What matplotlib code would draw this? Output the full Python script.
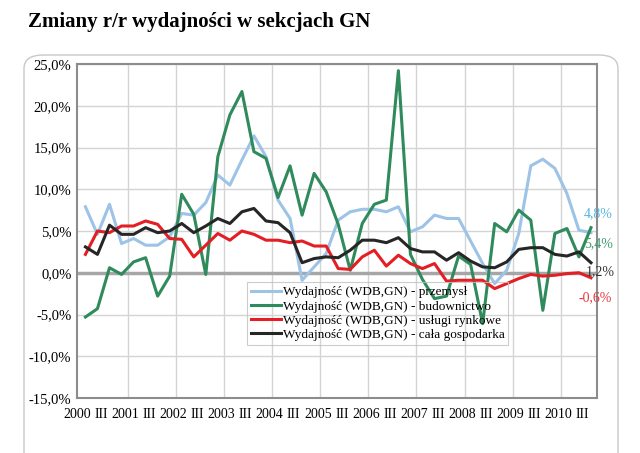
import matplotlib
matplotlib.use("Agg")
import matplotlib.pyplot as plt
from matplotlib.patches import FancyBboxPatch

# quarterly data 2000 Q1 .. 2010 Q3
years = list(range(2000, 2011))
n_quarters = 43

przemysl = [7.9, 4.6, 8.2, 3.5, 4.1, 3.3, 3.3, 4.3, 7.1, 6.9, 8.4, 11.7, 10.5, 13.5, 16.4,
            13.9, 8.7, 6.5, -0.9, 0.7, 2.3, 6.3, 7.3, 7.6, 7.6, 7.3, 7.9, 4.9, 5.5, 6.9,
            6.5, 6.5, 3.8, 1.1, -1.3, 0.3, 4.7, 12.8, 13.6, 12.5, 9.5, 5.1, 4.8]
budownictwo = [-5.3, -4.3, 0.6, -0.2, 1.3, 1.8, -2.8, -0.4, 9.4, 7.0, -0.2, 13.9, 18.9, 21.7,
               14.5, 13.7, 9.0, 12.8, 6.9, 11.9, 9.7, 5.8, 0.3, 5.9, 8.2, 8.7, 24.2, 2.2,
               -0.8, -3.1, -2.8, 2.0, 1.0, -6.1, 5.9, 4.9, 7.5, 6.3, -4.5, 4.7, 5.3, 1.9, 5.4]
uslugi = [2.2, 5.0, 4.8, 5.6, 5.6, 6.2, 5.8, 4.1, 4.0, 1.9, 3.3, 4.7, 3.9, 5.0, 4.6, 3.9,
          3.9, 3.6, 3.8, 3.2, 3.2, 0.5, 0.4, 1.9, 2.7, 0.8, 2.1, 1.1, 0.5, 1.1, -1.0, -0.9,
          -0.9, -0.9, -1.9, -1.3, -0.7, -0.2, -0.4, -0.3, -0.1, 0.0, -0.6]
gospodarka = [3.1, 2.2, 5.7, 4.6, 4.6, 5.4, 4.8, 5.0, 5.9, 4.8, 5.6, 6.5, 5.9, 7.3, 7.7, 6.2,
              6.0, 4.8, 1.2, 1.7, 1.9, 1.8, 2.7, 3.9, 3.9, 3.6, 4.2, 2.9, 2.5, 2.5, 1.5, 2.4,
              1.4, 0.7, 0.6, 1.3, 2.8, 3.0, 3.0, 2.2, 2.0, 2.5, 1.2]

series_labels = ["Wydajność (WDB,GN) - przemysł",
                 "Wydajność (WDB,GN) - budownictwo",
                 "Wydajność (WDB,GN) - usługi rynkowe",
                 "Wydajność (WDB,GN) - cała gospodarka"]
end_labels = ["4,8%", "5,4%", "-0,6%", "1,2%"]

colors = ["#9DC3E6", "#2F8A5C", "#E31E24", "#262626"]
label_colors = ["#55B4E0", "#3F9B6C", "#E8383D", "#333333"]

serif = "Liberation Serif"

fig = plt.figure(figsize=(6.4, 4.53), dpi=100)

# rounded frame around the chart
frame = FancyBboxPatch((24 / 640, -0.05), (618 - 24) / 640, 1.05 - 55 / 453,
                       boxstyle="round,pad=0,rounding_size=0.03",
                       transform=fig.transFigure, fc="white", ec="#C8C8C8", lw=1.0,
                       zorder=-1)
fig.patches.append(frame)

fig.text(28 / 640, 1 - 22 / 453, "Zmiany r/r wydajności w sekcjach GN",
         fontsize=15, fontweight="bold", family=serif, va="center", ha="left")

ax = fig.add_axes([77 / 640, 55 / 453, 520 / 640, 334 / 453])
ax.set_zorder(2)
ax.patch.set_alpha(0)
x = list(range(n_quarters))
for vals, c, lab in zip([przemysl, budownictwo, uslugi, gospodarka], colors, series_labels):
    ax.plot(x, vals, color=c, lw=2.2, label=lab, zorder=3)

ax.set_xlim(-0.5, n_quarters - 0.5)
ax.set_ylim(-15, 25)
ax.set_yticks(range(-15, 26, 5))
ax.set_yticklabels([f"{v:.1f}%".replace(".", ",") for v in range(-15, 26, 5)],
                   family=serif, fontsize=10.5)

# year / III labels every second quarter, gridlines between years
tick_pos = [i - 0.7 for i in range(0, n_quarters, 2)]
tick_lab = [str(years[i // 4]) if i % 4 == 0 else "III" for i in range(0, n_quarters, 2)]
ax.set_xticks(tick_pos)
ax.set_xticklabels(tick_lab, family=serif, fontsize=10)
ax.set_xticks([i - 0.5 for i in range(4, n_quarters, 4)], minor=True)
ax.tick_params(axis="x", which="both", length=0, pad=7)
ax.tick_params(axis="y", length=0, pad=4)

ax.grid(True, which="minor", axis="x", color="#D4D4D4", lw=1)
ax.grid(True, which="major", axis="y", color="#D4D4D4", lw=1)
ax.axhline(0, color="#A6A6A6", lw=2.5, zorder=2)
for sp in ax.spines.values():
    sp.set_color("#8C8C8C")
    sp.set_linewidth(1.5)

leg = ax.legend(loc="lower left", bbox_to_anchor=(0.327, 0.159), borderaxespad=0,
                prop={"family": serif, "size": 9.5}, frameon=True, fancybox=False,
                handlelength=2.3, handletextpad=0.1, labelspacing=0.15, borderpad=0.3)
leg.get_frame().set_facecolor("none")
leg.get_frame().set_edgecolor("#C0C0C0")
leg.get_frame().set_linewidth(0.8)

# end-of-series value labels
end_pos = [(41.4, 7.1), (41.4, 3.5), (41.0, -3.0), (41.6, 0.1)]
for (lx, ly), txt, c in zip(end_pos, end_labels, label_colors):
    ax.text(lx, ly, txt, color=c, family=serif, fontsize=10, va="center", ha="left",
            clip_on=False, zorder=5)

fig.savefig("out.png", dpi=100)
